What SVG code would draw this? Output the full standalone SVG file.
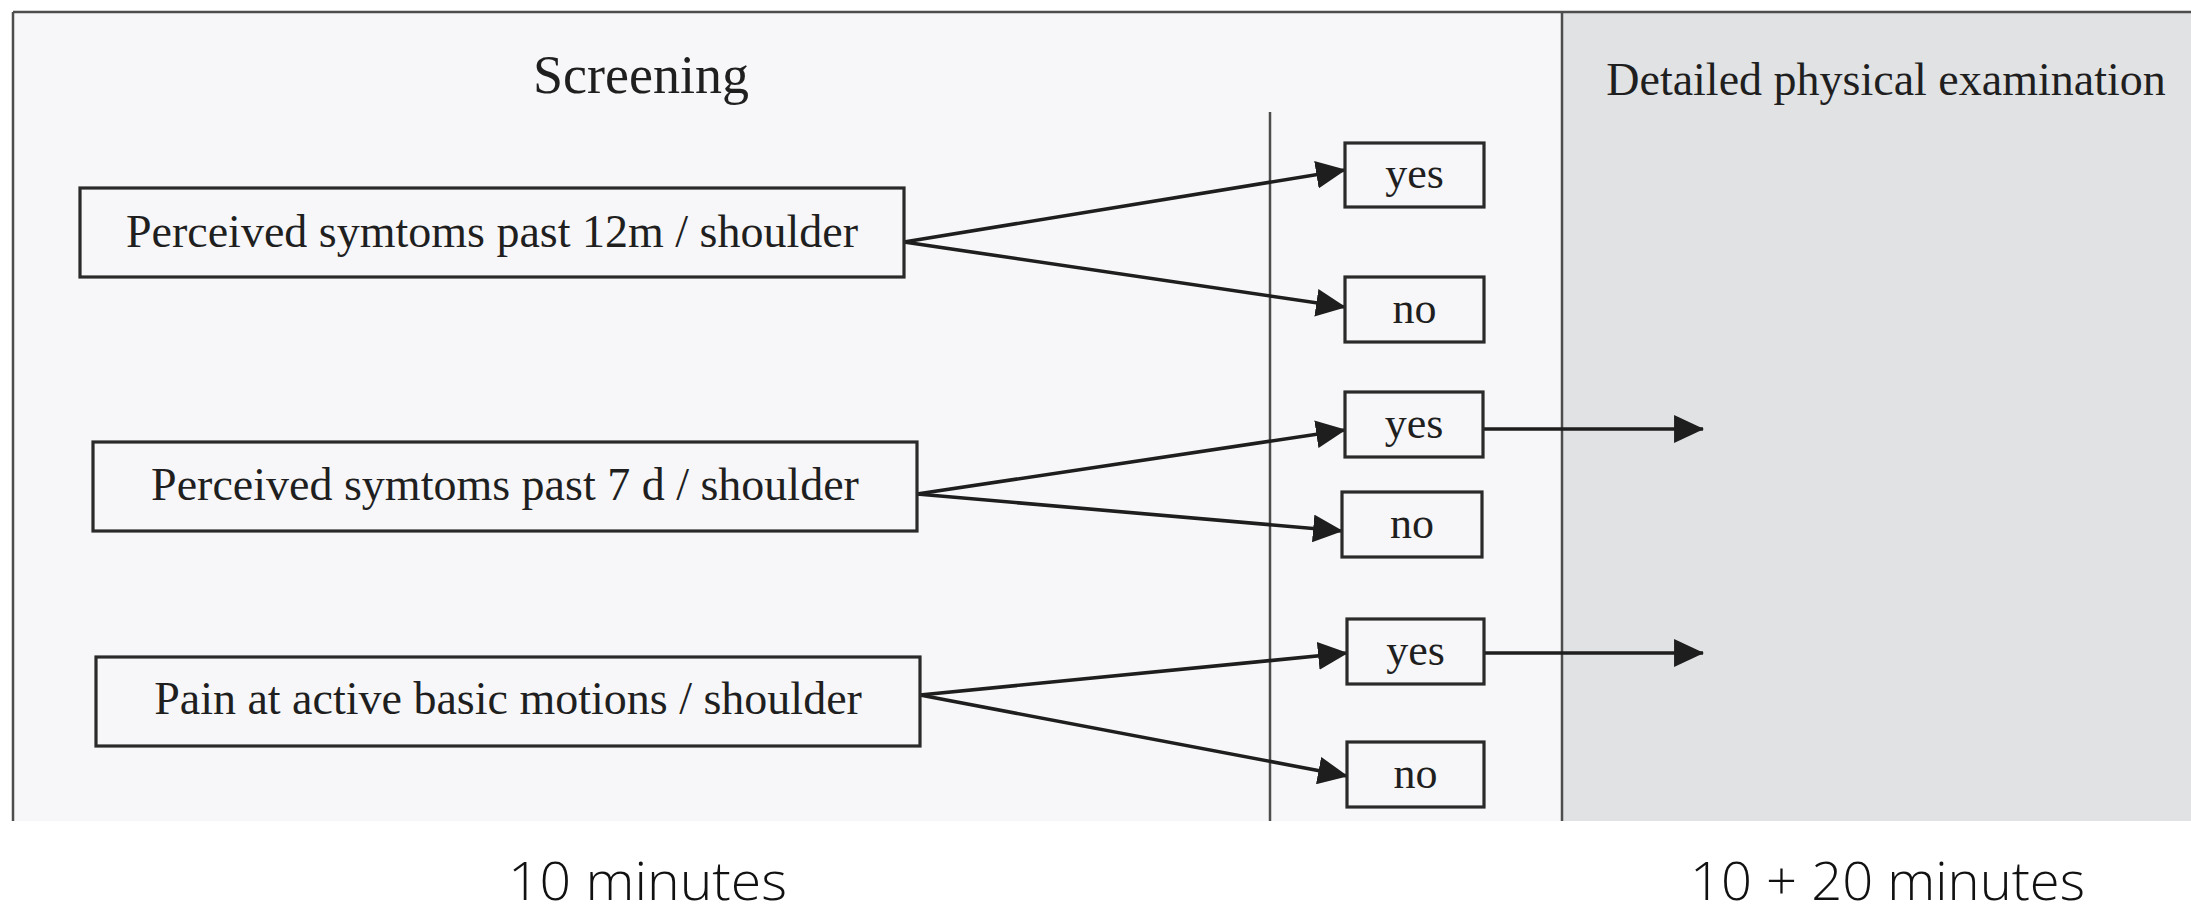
<svg xmlns="http://www.w3.org/2000/svg" width="2191" height="914" viewBox="0 0 2191 914">
<defs>
<marker id="ah" markerUnits="userSpaceOnUse" markerWidth="30" markerHeight="28" viewBox="0 0 28 26" refX="27" refY="13" orient="auto">
<path d="M0,0 L28,13 L0,26 Z" fill="#1e1e1e"/>
</marker>
<style>
.div{stroke:#4d4d4d;stroke-width:2.5}
.box{fill:#f7f7f9;stroke:#2a2a2a;stroke-width:3.2}
.t{font-family:"Liberation Serif","Times New Roman",serif;fill:#1f1f1f;text-anchor:middle}
.q{font-size:46px}
.yn{font-size:44px}
.arr{fill:none;stroke:#1e1e1e;stroke-width:3.6;marker-end:url(#ah)}
.foot{font-family:"Open Sans","Noto Sans",sans-serif;font-weight:300;font-size:54px;fill:#111}
</style>
</defs>
<rect x="0" y="0" width="2191" height="914" fill="#ffffff"/>
<g id="panels">
<rect x="13" y="12" width="1549" height="809" fill="#f7f7f9"/>
<rect x="1562" y="12" width="629" height="809" fill="#e1e2e4"/>
<line class="div" x1="13" y1="12" x2="2191" y2="12"/>
<line class="div" x1="13" y1="12" x2="13" y2="821"/>
<line class="div" x1="1562" y1="12" x2="1562" y2="821"/>
<line class="div" x1="1270" y1="112" x2="1270" y2="821" stroke-width="2"/>
<text class="t" x="641" y="93" font-size="54">Screening</text>
<text class="t" x="1886" y="95" font-size="46">Detailed physical examination</text>
</g>
<g id="connectors">
<path class="arr" d="M904,242 L1345,170"/>
<path class="arr" d="M904,242 L1345,307"/>
<path class="arr" d="M917,494 L1345,430"/>
<path class="arr" d="M917,494 L1342,531"/>
<path class="arr" d="M920,695 L1347,653"/>
<path class="arr" d="M920,695 L1347,776"/>
<path class="arr" d="M1484,429 L1703,429"/>
<path class="arr" d="M1484,653 L1703,653"/>
</g>
<g id="q1">
<rect class="box" x="80" y="188" width="824" height="89"/>
<text class="t q" x="492" y="247">Perceived symtoms past 12m / shoulder</text>
</g>
<g id="q2">
<rect class="box" x="93" y="442" width="824" height="89"/>
<text class="t q" x="505" y="500">Perceived symtoms past 7 d / shoulder</text>
</g>
<g id="q3">
<rect class="box" x="96" y="657" width="824" height="89"/>
<text class="t q" x="508" y="714">Pain at active basic motions / shoulder</text>
</g>
<g id="yes1">
<rect class="box" x="1345" y="143" width="139" height="64"/>
<text class="t yn" x="1414.5" y="188">yes</text>
</g>
<g id="no1">
<rect class="box" x="1345" y="277" width="139" height="65"/>
<text class="t yn" x="1414.5" y="323">no</text>
</g>
<g id="yes2">
<rect class="box" x="1345" y="392" width="138" height="65"/>
<text class="t yn" x="1414" y="438">yes</text>
</g>
<g id="no2">
<rect class="box" x="1342" y="492" width="140" height="65"/>
<text class="t yn" x="1412" y="538">no</text>
</g>
<g id="yes3">
<rect class="box" x="1347" y="619" width="137" height="65"/>
<text class="t yn" x="1415.5" y="665">yes</text>
</g>
<g id="no3">
<rect class="box" x="1347" y="742" width="137" height="65"/>
<text class="t yn" x="1415.5" y="788">no</text>
</g>
<g id="footer">
<text class="foot" x="508" y="900" textLength="279" lengthAdjust="spacingAndGlyphs">10 minutes</text>
<text class="foot" x="1690" y="900" textLength="395" lengthAdjust="spacingAndGlyphs">10 + 20 minutes</text>
</g>
</svg>
